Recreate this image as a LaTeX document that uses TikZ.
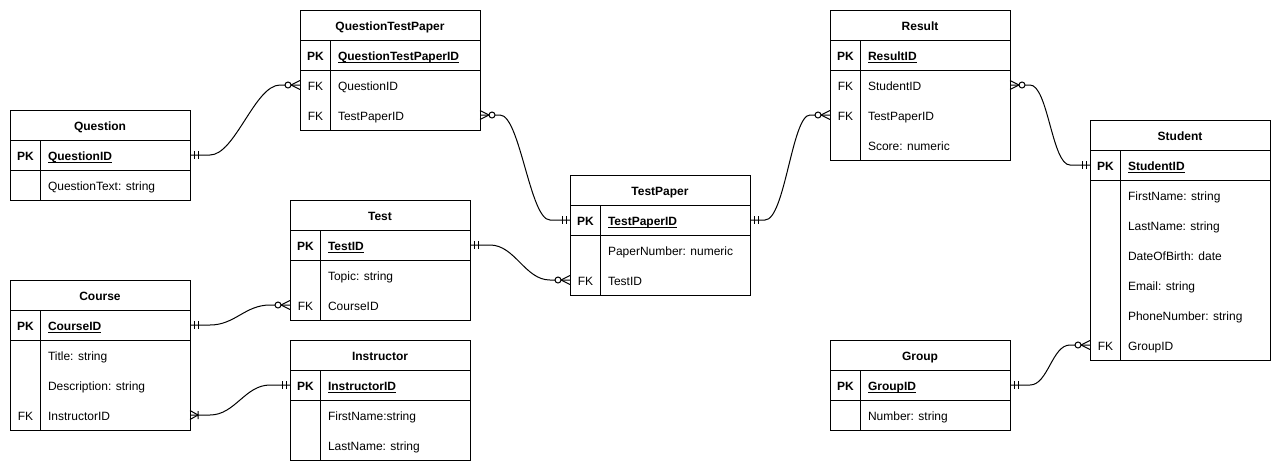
\documentclass[tikz,border=0pt]{standalone}
\usepackage{fontspec}
\setmainfont{Liberation Sans}
\newcommand\pkul[1]{\setbox0\hbox{#1}\rlap{\rule[-2.6pt]{\wd0}{0.9pt}}\box0}
\tikzset{
  mandone/.pic={\draw (4,-4) -- (4,4) (8,-4) -- (8,4);},
  zeromany/.pic={\draw (0,-4.5) -- (9,0) -- (0,4.5); \draw[fill=white] (12,0) circle[radius=3];},
  onemany/.pic={\draw (0,-4.5) -- (8,0) -- (0,4.5) (8,-4) -- (8,4);},
}
% frame: #1 name, #2 x-left, #3 y-top, #4 height, #5 title
\newcommand\erframe[5]{%
  \node[frame, minimum height=#4] (#1) at (#2,#3) {};
  \draw (#2,#3+30) -- +(180,0) (#2,#3+60) -- +(180,0) (#2+30,#3+30) -- (#2+30,#3+#4);
  \node[ttl] (#1-t) at (#2+90,#3+20) {#5};
}
% row: #1 name, #2 x-left, #3 y-center, #4 key, #5 field
\newcommand\erow[5]{%
  \node[rowbox] (#1) at (#2+90,#3) {};
  \node[txt] (#1-k) at (#2+15.5,#3+5.3) {#4};
  \node[txt, anchor=base west] (#1-f) at (#2+38,#3+5.3) {#5};
}
\begin{document}
\begin{tikzpicture}[x=1pt,y=-1pt, line width=1pt,
  every node/.style={font=\fontsize{12}{14}\selectfont, inner sep=0pt, outer sep=0pt},
  frame/.style={draw, minimum width=180, anchor=north west},
  ttl/.style={anchor=base, font=\fontsize{12}{14}\selectfont\bfseries},
  txt/.style={anchor=base},
  rowbox/.style={minimum width=180, minimum height=30},
  conn/.style={draw, line width=1pt},
]
\path[use as bounding box, fill=white] (0,0) rectangle (1282,472);

% Question
\erframe{q}{10}{110}{90}{Question}
\erow{q-pk}{10}{155}{\bfseries PK}{\bfseries\pkul{QuestionID}}
\erow{q-r1}{10}{185}{}{QuestionText: string}

% QuestionTestPaper
\erframe{qtp}{300}{10}{120}{QuestionTestPaper}
\erow{qtp-pk}{300}{55}{\bfseries PK}{\bfseries\pkul{QuestionTestPaperID}}
\erow{qtp-q}{300}{85}{FK}{QuestionID}
\erow{qtp-tp}{300}{115}{FK}{TestPaperID}

% Test
\erframe{t}{290}{200}{120}{Test}
\erow{t-pk}{290}{245}{\bfseries PK}{\bfseries\pkul{TestID}}
\erow{t-r1}{290}{275}{}{Topic: string}
\erow{t-c}{290}{305}{FK}{CourseID}

% Course
\erframe{c}{10}{280}{150}{Course}
\erow{c-pk}{10}{325}{\bfseries PK}{\bfseries\pkul{CourseID}}
\erow{c-r1}{10}{355}{}{Title: string}
\erow{c-r2}{10}{385}{}{Description: string}
\erow{c-i}{10}{415}{FK}{InstructorID}

% Instructor
\erframe{i}{290}{340}{120}{Instructor}
\erow{i-pk}{290}{385}{\bfseries PK}{\bfseries\pkul{InstructorID}}
\erow{i-r1}{290}{415}{}{FirstName:string}
\erow{i-r2}{290}{445}{}{LastName: string}

% TestPaper
\erframe{tp}{570}{175}{120}{TestPaper}
\erow{tp-pk}{570}{220}{\bfseries PK}{\bfseries\pkul{TestPaperID}}
\erow{tp-r1}{570}{250}{}{PaperNumber: numeric}
\erow{tp-t}{570}{280}{FK}{TestID}

% Result
\erframe{r}{830}{10}{150}{Result}
\erow{r-pk}{830}{55}{\bfseries PK}{\bfseries\pkul{ResultID}}
\erow{r-s}{830}{85}{FK}{StudentID}
\erow{r-tp}{830}{115}{FK}{TestPaperID}
\erow{r-r3}{830}{145}{}{Score: numeric}

% Student
\erframe{s}{1090}{120}{240}{Student}
\erow{s-pk}{1090}{165}{\bfseries PK}{\bfseries\pkul{StudentID}}
\erow{s-r1}{1090}{195}{}{FirstName: string}
\erow{s-r2}{1090}{225}{}{LastName: string}
\erow{s-r3}{1090}{255}{}{DateOfBirth: date}
\erow{s-r4}{1090}{285}{}{Email: string}
\erow{s-r5}{1090}{315}{}{PhoneNumber: string}
\erow{s-g}{1090}{345}{FK}{GroupID}

% Group
\erframe{g}{830}{340}{90}{Group}
\erow{g-pk}{830}{385}{\bfseries PK}{\bfseries\pkul{GroupID}}
\erow{g-r1}{830}{415}{}{Number: string}

% Connectors
\draw[conn] (q-pk.east) -- ++(20,0) .. controls +(25,0) and +(-25,0) .. ([xshift=-20pt]qtp-q.west) -- (qtp-q.west);
\pic at (q-pk.east) {mandone};
\pic[xscale=-1] at (qtp-q.west) {zeromany};

\draw[conn] (qtp-tp.east) -- ++(20,0) .. controls +(20,0) and +(-20,0) .. ([xshift=-20pt]tp-pk.west) -- (tp-pk.west);
\pic at (qtp-tp.east) {zeromany};
\pic[xscale=-1] at (tp-pk.west) {mandone};

\draw[conn] (t-pk.east) -- ++(20,0) .. controls +(25,0) and +(-25,0) .. ([xshift=-20pt]tp-t.west) -- (tp-t.west);
\pic at (t-pk.east) {mandone};
\pic[xscale=-1] at (tp-t.west) {zeromany};

\draw[conn] (c-pk.east) -- ++(20,0) .. controls +(25,0) and +(-25,0) .. ([xshift=-20pt]t-c.west) -- (t-c.west);
\pic at (c-pk.east) {mandone};
\pic[xscale=-1] at (t-c.west) {zeromany};

\draw[conn] (c-i.east) -- ++(20,0) .. controls +(25,0) and +(-25,0) .. ([xshift=-20pt]i-pk.west) -- (i-pk.west);
\pic at (c-i.east) {onemany};
\pic[xscale=-1] at (i-pk.west) {mandone};

\draw[conn] (tp-pk.east) -- ++(15,0) .. controls +(20,0) and +(-18,0) .. ([xshift=-20pt]r-tp.west) -- (r-tp.west);
\pic at (tp-pk.east) {mandone};
\pic[xscale=-1] at (r-tp.west) {zeromany};

\draw[conn] (r-s.east) -- ++(20,0) .. controls +(18,0) and +(-18,0) .. ([xshift=-20pt]s-pk.west) -- (s-pk.west);
\pic at (r-s.east) {zeromany};
\pic[xscale=-1] at (s-pk.west) {mandone};

\draw[conn] (g-pk.east) -- ++(20,0) .. controls +(18,0) and +(-18,0) .. ([xshift=-20pt]s-g.west) -- (s-g.west);
\pic at (g-pk.east) {mandone};
\pic[xscale=-1] at (s-g.west) {zeromany};
\end{tikzpicture}
\end{document}
